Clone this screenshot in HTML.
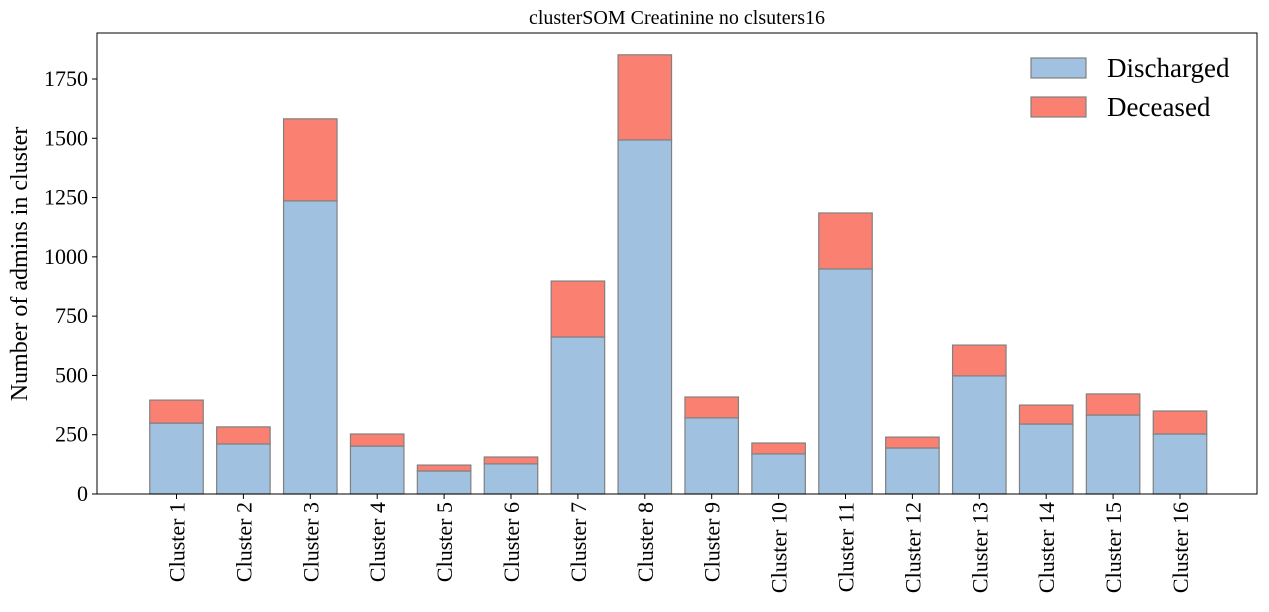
<!DOCTYPE html>
<html><head><meta charset="utf-8"><style>
body{margin:0;background:#fff;}
svg{display:block;font-family:"Liberation Serif",serif;}
</style></head><body>
<svg id="chart" width="1269" height="612"></svg>
<script>
const categories=["Cluster 1","Cluster 2","Cluster 3","Cluster 4","Cluster 5","Cluster 6","Cluster 7","Cluster 8","Cluster 9","Cluster 10","Cluster 11","Cluster 12","Cluster 13","Cluster 14","Cluster 15","Cluster 16"];
const discharged=[299,211,1236,202,97,127,662,1493,321,169,949,194,498,295,333,253];
const deceased=[97,72,346,51,25,29,236,359,88,46,236,46,130,80,89,97];
const yTicks=[0,250,500,750,1000,1250,1500,1750];
const NS="http://www.w3.org/2000/svg";
const svg=document.getElementById('chart');
const L=97,R=1257,T=33,B=494;
const y=v=>B-v*(415/1750);
const step=66.9,x0=176.5,bw=53.5;
const xc=i=>x0+i*step;
function mk(t,a,p){const e=document.createElementNS(NS,t);for(const k in a)e.setAttribute(k,a[k]);(p||svg).appendChild(e);return e;}
let e;
e=mk('text',{x:677,y:24,'text-anchor':'middle','font-size':20});e.textContent='clusterSOM Creatinine no clsuters16';


categories.forEach((c,i)=>{
 const x=xc(i)-bw/2;
 e=mk('rect',{x:x,y:y(discharged[i]),width:bw,height:y(0)-y(discharged[i]),fill:'#a0c1df',stroke:'#808080','stroke-width':1.2});
 
 
 const tot=discharged[i]+deceased[i];
 e=mk('rect',{x:x,y:y(tot),width:bw,height:y(discharged[i])-y(tot),fill:'#fa8072',stroke:'#808080','stroke-width':1.2});
 
 
 mk('line',{x1:xc(i),x2:xc(i),y1:B,y2:B+5,stroke:'#000'});
 e=mk('text',{transform:`translate(${xc(i)+8},502) rotate(-90)`,'text-anchor':'end','font-size':22});e.textContent=c;
 
 
});
yTicks.forEach(v=>{
 mk('line',{x1:L-5,x2:L,y1:y(v),y2:y(v),stroke:'#000'});
 e=mk('text',{x:L-9,y:y(v)+7,'text-anchor':'end','font-size':22});e.textContent=v;
 
 
});
e=mk('rect',{x:L,y:T,width:R-L,height:B-T,fill:'none',stroke:'#000','stroke-width':1});


e=mk('text',{transform:'translate(27,264) rotate(-90)','text-anchor':'middle','font-size':24});e.textContent='Number of admins in cluster';


[['Discharged','#a0c1df',58],['Deceased','#fa8072',97]].forEach(([t,c,yy])=>{
 e=mk('rect',{x:1031,y:yy,width:55,height:20,fill:c,stroke:'#808080','stroke-width':1.2});
 
 
 e=mk('text',{x:1107,y:yy+19,'font-size':27});e.textContent=t;
 
 
});
</script>
</body></html>
